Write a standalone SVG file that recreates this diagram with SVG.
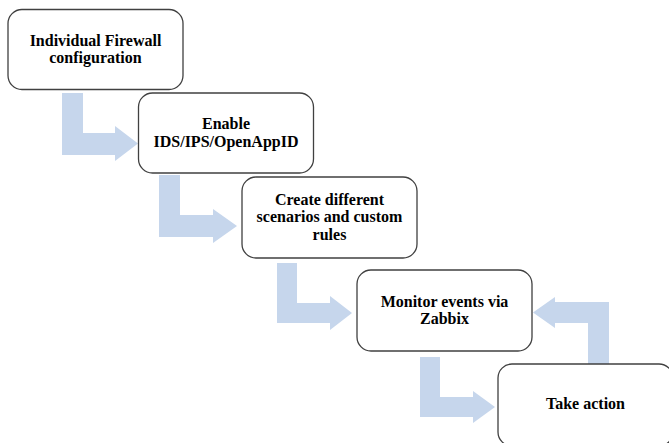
<svg xmlns="http://www.w3.org/2000/svg" width="669" height="443" viewBox="0 0 669 443">
<style>
.box{fill:#ffffff;stroke:#404040;stroke-width:1.3}
.arr{fill:#c6d6ec;stroke:none}
text{font-family:"Liberation Serif","Times New Roman",serif;font-weight:bold;font-size:16px;fill:#000;text-anchor:middle}
</style>
<rect width="669" height="443" fill="#ffffff"/>
<g id="connectors">
<path class="arr" d="M62,93 H83 V133 H115 V126 L138,143.5 L115,161 V155 H62 Z"/>
<path class="arr" d="M159,175 H180 V215 H213 V209 L237,226 L213,243 V237 H159 Z"/>
<path class="arr" d="M277,263 H297 V303 H330 V296 L352,313 L330,330 V323 H277 Z"/>
<path class="arr" d="M420,357 H440 V397 H473 V391 L495,407 L473,423 V417 H420 Z"/>
<path class="arr" d="M588,366 V323 H555 V328 L533,312.5 L555,297 V302 H609 V366 Z"/>
</g>
<g id="n1">
<rect class="box" x="8" y="9.5" width="175" height="80" rx="14"/>
<text x="95.5" y="45.5">Individual Firewall</text>
<text x="95.5" y="63">configuration</text>
</g>
<g id="n2">
<rect class="box" x="138.5" y="93" width="175" height="80" rx="14"/>
<text x="226" y="128.5">Enable</text>
<text x="226" y="147">IDS/IPS/OpenAppID</text>
</g>
<g id="n3">
<rect class="box" x="242" y="177" width="175" height="81" rx="14"/>
<text x="329.5" y="204.5">Create different</text>
<text x="329.5" y="222">scenarios and custom</text>
<text x="329.5" y="239.5">rules</text>
</g>
<g id="n4">
<rect class="box" x="357" y="270" width="175" height="81" rx="14"/>
<text x="444.5" y="306.5">Monitor events via</text>
<text x="444.5" y="324">Zabbix</text>
</g>
<g id="n5">
<rect class="box" x="498" y="364" width="175" height="82" rx="14"/>
<text x="585.5" y="409">Take action</text>
</g>
</svg>
